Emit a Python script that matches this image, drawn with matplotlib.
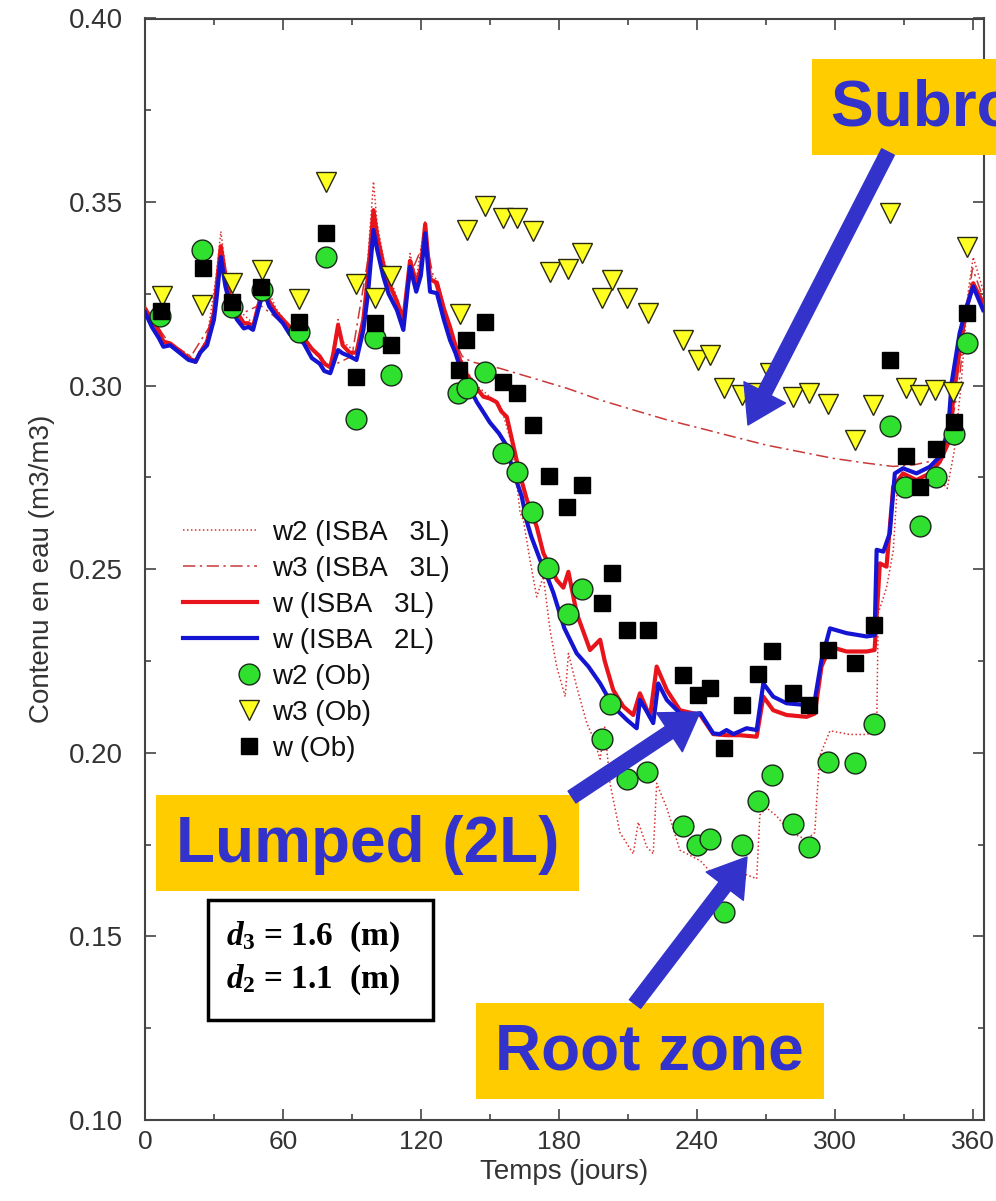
import matplotlib
matplotlib.use("Agg")
import matplotlib.pyplot as plt
from matplotlib.patches import Rectangle, FancyArrowPatch
from matplotlib.legend_handler import HandlerLine2D
from matplotlib.ticker import MultipleLocator

plt.rcParams['font.family'] = ['Liberation Sans', 'DejaVu Sans']
plt.rcParams['mathtext.fontset'] = 'custom'
plt.rcParams['mathtext.it'] = 'Liberation Serif:italic:bold'
plt.rcParams['mathtext.rm'] = 'Liberation Serif:bold'

# ---------------- data ----------------
w2_3L_days = [0, 3, 8, 15, 22, 27, 31, 33, 35, 40, 47, 51.6, 57, 63, 69, 76, 80.6, 84, 86, 92, 95, 97,
              99.4, 101, 104, 109.6, 112.4, 115.3, 118, 121.9, 124, 127, 132.7, 137, 140, 144.3, 150,
              155, 160, 163.2, 164.6, 167.5, 170.4, 173.3, 176.2, 179.1, 182.8, 184.2, 187.8, 192.2,
              195, 198, 200, 202.3, 206.6, 212.4, 214.6, 218.3, 221.1, 222.6, 227, 232.7, 241.6,
              247.2, 251.4, 256, 261.7, 266.1, 267.5, 270.4, 274.8, 280.6, 287.8, 291.4, 292.2,
              293.6, 298, 306.6, 313.9, 318.3, 319, 322.6, 325.5, 327, 330, 340, 345, 349, 352,
              355, 358, 360.3, 364.6]
w2_3L = [0.322, 0.318, 0.312, 0.310, 0.307, 0.313, 0.330, 0.342, 0.332, 0.321, 0.317, 0.329, 0.321,
         0.316, 0.313, 0.308, 0.305, 0.318, 0.312, 0.309, 0.320, 0.335, 0.3556, 0.344, 0.334, 0.324,
         0.318, 0.336, 0.329, 0.345, 0.330, 0.329, 0.316, 0.308, 0.304, 0.300, 0.297, 0.294, 0.283,
         0.2653, 0.2634, 0.2525, 0.2425, 0.248, 0.2335, 0.2235, 0.2153, 0.2271, 0.218, 0.2081,
         0.2041, 0.1983, 0.207, 0.1917, 0.1783, 0.1725, 0.1811, 0.1744, 0.1725, 0.1917, 0.185,
         0.1735, 0.1706, 0.1668, 0.1648, 0.1668, 0.1668, 0.1657, 0.1831, 0.185, 0.1828, 0.1783,
         0.1764, 0.1783, 0.1869, 0.1993, 0.206, 0.205, 0.205, 0.206, 0.238, 0.245, 0.255, 0.270,
         0.272, 0.272, 0.275, 0.272, 0.282, 0.300, 0.325, 0.335, 0.326]

w3_3L_days = [0, 10, 20, 30, 33, 40, 50, 60, 70, 80, 90, 99, 105, 112, 116, 122, 126, 132, 138, 142,
              154.5, 169, 183.5, 198, 212.4, 227, 241.6, 255.9, 270.4, 284.9, 299.4, 313.9, 325.5,
              335, 344, 348, 351, 354, 357, 360, 364]
w3_3L = [0.321, 0.312, 0.308, 0.318, 0.333, 0.319, 0.322, 0.317, 0.312, 0.305, 0.308, 0.342, 0.330,
         0.318, 0.331, 0.340, 0.328, 0.316, 0.308, 0.3065, 0.3047, 0.302, 0.2993, 0.2961, 0.2934,
         0.2907, 0.2884, 0.2861, 0.2838, 0.282, 0.2802, 0.2789, 0.278, 0.2785, 0.2797, 0.283, 0.290,
         0.300, 0.318, 0.332, 0.325]

w_3L_days = [0, 3, 6, 8, 11, 15, 19, 22, 24, 27, 30, 31, 33, 35, 37, 40, 43, 45, 47, 49, 51.6, 54, 57,
             60, 63, 66, 69, 72.6, 76, 78, 80.6, 82, 84, 86, 89, 92, 95, 97, 99.4, 101, 103.7, 106,
             109.6, 112.4, 115.3, 118, 120, 121.9, 124, 127, 130, 132.7, 135, 137, 140, 144.3, 147.2,
             150, 153, 155, 157.4, 160.3, 163, 166.1, 170.4, 173.3, 176.2, 179.1, 182, 184.2, 187.8,
             193.6, 198, 200, 203.7, 208.1, 212.4, 215.3, 219.7, 222.6, 227, 232.7, 241.6, 247.2,
             253, 258.8, 266.1, 269, 273.3, 279.1, 287.8, 291.4, 294.3, 298, 305.2, 313.9, 317.4,
             319.7, 322.6, 325.5, 329.8, 335.6, 341.4, 345.8, 349.4, 351.6, 354.4, 357, 360.3, 364.6]
w_3L = [0.321, 0.318, 0.315, 0.312, 0.3115, 0.3095, 0.3075, 0.3065, 0.309, 0.312, 0.320, 0.326, 0.338,
        0.330, 0.324, 0.320, 0.317, 0.317, 0.316, 0.321, 0.327, 0.323, 0.320, 0.318, 0.316, 0.315,
        0.313, 0.310, 0.308, 0.306, 0.305, 0.309, 0.3165, 0.311, 0.309, 0.309, 0.318, 0.330, 0.3478,
        0.341, 0.333, 0.328, 0.323, 0.318, 0.334, 0.328, 0.332, 0.344, 0.329, 0.328, 0.321, 0.316,
        0.311, 0.307, 0.303, 0.2993, 0.297, 0.2965, 0.2955, 0.293, 0.2915, 0.2835, 0.276, 0.269,
        0.2616, 0.2544, 0.2507, 0.2471, 0.245, 0.2493, 0.238, 0.228, 0.2308, 0.225, 0.2171, 0.2126,
        0.2103, 0.2162, 0.2098, 0.2235, 0.2171, 0.2116, 0.2103, 0.2051, 0.2048, 0.2048, 0.2044,
        0.2153, 0.2116, 0.2103, 0.2098, 0.2107, 0.2235, 0.2289, 0.2276, 0.2276, 0.228, 0.2516,
        0.2507, 0.2725, 0.2761, 0.2743, 0.2761, 0.2793, 0.2843, 0.2961, 0.3097, 0.320, 0.3279,
        0.3225]

w_2L_days = [0, 3, 6, 8, 11, 15, 19, 22, 24, 27, 30, 31, 33, 35, 37, 40, 43, 45, 47, 49, 51.6, 54, 57,
             60, 63, 66, 69, 72.6, 76, 78, 80.6, 82, 84, 86, 89, 92, 95, 97, 99.4, 101, 103.7, 106,
             109.6, 112.4, 115.3, 118, 120, 121.9, 124, 127, 130, 132.7, 135, 137, 140, 144.3, 148,
             150, 154, 157, 160, 163.9, 166.1, 168, 171.9, 173.3, 177.7, 182.4, 187.8, 192.9, 198,
             203.7, 209.6, 213.9, 215.3, 218, 221.1, 223.3, 227, 232.7, 238.5, 241.6, 247.2, 250,
             253, 256, 261.7, 266.1, 269, 273.3, 279.1, 287.8, 291.4, 294.3, 298, 305.2, 313.9,
             317.4, 318.3, 321.2, 324, 326.2, 329.8, 335.6, 341.4, 345.8, 349.4, 350.9, 354.4,
             357.4, 360.3, 364.6]
w_2L = [0.320, 0.316, 0.313, 0.3106, 0.311, 0.309, 0.307, 0.3065, 0.309, 0.311, 0.318, 0.323, 0.335,
        0.327, 0.322, 0.318, 0.3156, 0.316, 0.3152, 0.320, 0.326, 0.3216, 0.319, 0.317, 0.314,
        0.313, 0.3116, 0.3075, 0.306, 0.304, 0.3034, 0.306, 0.3097, 0.3088, 0.308, 0.307, 0.3152,
        0.325, 0.3424, 0.337, 0.3297, 0.325, 0.3206, 0.3152, 0.3324, 0.3256, 0.330, 0.3415, 0.3256,
        0.3252, 0.318, 0.3124, 0.309, 0.3052, 0.301, 0.2956, 0.292, 0.290, 0.287, 0.284, 0.277,
        0.2698, 0.263, 0.259, 0.2525, 0.2507, 0.2435, 0.234, 0.2271, 0.2235, 0.2189, 0.2126, 0.209,
        0.2067, 0.2144, 0.2116, 0.2081, 0.2189, 0.2144, 0.2108, 0.2103, 0.2108, 0.2053, 0.2051,
        0.2062, 0.2051, 0.2067, 0.2062, 0.2189, 0.2153, 0.2135, 0.213, 0.2144, 0.2253, 0.2339,
        0.2326, 0.2317, 0.232, 0.2553, 0.2548, 0.2598, 0.2761, 0.2775, 0.2761, 0.2779, 0.2807,
        0.2878, 0.3007, 0.3143, 0.3215, 0.327, 0.3206]

w2_obs_days = [6.7, 24.8, 37.8, 50.9, 66.8, 78.8, 91.9, 100.1, 107.0, 136.3, 140.0, 148.0, 155.9, 161.7,
               168.3, 175.5, 184.2, 190.0, 198.7, 202.3, 209.6, 218.3, 233.9, 240.3, 245.8, 251.9,
               259.8, 266.8, 272.6, 281.7, 289.0, 297.2, 308.8, 317.0, 324.0, 330.6, 337.0, 344.0,
               352.0, 357.7]
w2_obs = [0.319, 0.337, 0.3215, 0.326, 0.3147, 0.335, 0.291, 0.313, 0.303, 0.298, 0.2993, 0.3038,
          0.2816, 0.2766, 0.2657, 0.2503, 0.2378, 0.2445, 0.2037, 0.2133, 0.193, 0.1949, 0.180, 0.175,
          0.1764, 0.1567, 0.175, 0.187, 0.194, 0.1807, 0.1744, 0.1976, 0.1973, 0.2079, 0.289, 0.2725,
          0.2618, 0.2752, 0.2869, 0.3117]

w3_obs_days = [7.4, 24.8, 37.8, 50.9, 66.8, 78.8, 91.9, 100.1, 107.0, 137.0, 140.0, 148.0, 155.9, 161.7,
               169.0, 176.2, 184.2, 190.0, 198.7, 203.0, 209.6, 219.0, 233.9, 240.7, 246.0, 251.9,
               259.8, 266.0, 271.9, 281.7, 289.0, 297.2, 308.8, 316.8, 324.0, 331.0, 337.0, 343.6,
               351.6, 357.7]
w3_obs = [0.3244, 0.322, 0.328, 0.3315, 0.3236, 0.3556, 0.3277, 0.3239, 0.3299, 0.3195, 0.3424, 0.3488,
          0.3456, 0.3456, 0.342, 0.331, 0.3317, 0.336, 0.3238, 0.3288, 0.3238, 0.3197, 0.3124, 0.307,
          0.3084, 0.2993, 0.2975, 0.2981, 0.3034, 0.297, 0.2979, 0.295, 0.2852, 0.2947, 0.347, 0.2993,
          0.2975, 0.2988, 0.2984, 0.3379]

w_obs_days = [6.9, 25.2, 37.8, 50.6, 66.8, 78.8, 91.9, 100.1, 107.0, 136.8, 139.7, 148.0, 155.9, 161.7,
              169.0, 175.9, 183.7, 190.0, 198.7, 203.0, 209.8, 219.0, 233.9, 240.7, 245.8, 251.9,
              259.8, 266.8, 272.6, 282.0, 289.0, 297.2, 308.8, 317.0, 324.0, 331.0, 337.0, 344.0,
              352.0, 357.7]
w_obs = [0.3202, 0.332, 0.3229, 0.327, 0.3174, 0.3415, 0.3024, 0.3171, 0.3111, 0.3043, 0.3124, 0.3174,
         0.3011, 0.2981, 0.2893, 0.2754, 0.267, 0.2729, 0.2409, 0.2491, 0.2335, 0.2335, 0.2212, 0.2158,
         0.2176, 0.2012, 0.213, 0.2216, 0.2276, 0.2162, 0.213, 0.228, 0.2244, 0.2348, 0.307, 0.2808,
         0.2725, 0.2827, 0.2902, 0.3197]

labels = ['w2 (ISBA   3L)', 'w3 (ISBA   3L)', 'w (ISBA   3L)', 'w (ISBA   2L)',
          'w2 (Ob)', 'w3 (Ob)', 'w (Ob)']
xticks = [0, 60, 120, 180, 240, 300, 360]
yticks = [0.10, 0.15, 0.20, 0.25, 0.30, 0.35, 0.40]

# ---------------- figure ----------------
W, H = 996, 1201
fig = plt.figure(figsize=(W / 100, H / 100), dpi=100)
ax = fig.add_axes([145 / W, 1 - 1120 / H, (984 - 145) / W, (1120 - 18.5) / H])

red = '#e8141c'
blue = '#1414d2'
l1, = ax.plot(w2_3L_days, w2_3L, color='#d83030', lw=1.1, ls=(0, (1, 1.6)), zorder=2)
l2, = ax.plot(w3_3L_days, w3_3L, color='#c83838', lw=1.1, ls=(0, (8, 3, 1.5, 3)), zorder=2)
l3, = ax.plot(w_3L_days, w_3L, color=red, lw=3.0, zorder=3)
l4, = ax.plot(w_2L_days, w_2L, color=blue, lw=3.0, zorder=4)
m1, = ax.plot(w2_obs_days, w2_obs, ls='none', marker='o', ms=15, mfc='#2fe02f', mec='#1a2a1a',
              mew=1.0, zorder=5)
m2, = ax.plot(w3_obs_days, w3_obs, ls='none', marker='v', ms=15, mfc='#ffff22', mec='#2a2a10',
              mew=1.0, zorder=6)
m3, = ax.plot(w_obs_days, w_obs, ls='none', marker='s', ms=12, mfc='black', mec='black',
              mew=1.0, zorder=7)

ax.set_xlim(0, 365)
ax.set_ylim(0.10, 0.40)
ax.set_xticks(xticks)
ax.set_yticks(yticks)
ax.set_yticklabels([f'{v:.2f}' for v in yticks])
ax.xaxis.set_minor_locator(MultipleLocator(30))
ax.yaxis.set_minor_locator(MultipleLocator(0.025))
ax.tick_params(which='both', direction='in', top=True, right=True, color='#444444', width=1.2)
ax.tick_params(which='major', length=8)
ax.tick_params(which='minor', length=4)
ax.tick_params(axis='y', which='major', pad=16, labelsize=20, labelcolor='#333333')
ax.tick_params(axis='x', which='major', pad=7, labelsize=19, labelcolor='#333333')
for s in ax.spines.values():
    s.set_color('#444444')
    s.set_linewidth(1.5)
ax.set_xlabel('Temps (jours)', fontsize=20, color='#333333', labelpad=4)
ax.set_ylabel('Contenu en eau (m3/m3)', fontsize=20, color='#333333', labelpad=10)


class RightMarker(HandlerLine2D):
    """Put the single legend marker near the right end of the handle."""
    def get_xdata(self, legend, xdescent, ydescent, width, height, fontsize):
        xc = -xdescent + width - 0.3 * fontsize
        return [xc - 1, xc + 1], [xc]


rm = RightMarker()
leg = ax.legend([l1, l2, l3, l4, m1, m2, m3], labels, loc='upper left',
                bbox_to_anchor=(172 / W, 1 - 509 / H), bbox_transform=fig.transFigure,
                frameon=False, fontsize=20, handlelength=2.66, handletextpad=0.55,
                labelspacing=0.36, borderaxespad=0, numpoints=1,
                handler_map={m1: rm, m2: rm, m3: rm})
for t in leg.get_texts():
    t.set_color('#111111')

# ---------------- annotations ----------------
box_col = '#ffcc00'
txt_col = '#3333cc'


def fx(x):
    return x / W


def fy(y):
    return 1 - y / H


def label_box(x0, y0, x1, y1, text, tx):
    fig.add_artist(Rectangle((fx(x0), fy(y1)), fx(x1) - fx(x0), fy(y0) - fy(y1),
                             transform=fig.transFigure, facecolor=box_col, edgecolor='none',
                             zorder=10))
    fig.text(fx(tx), fy((y0 + y1) / 2 + 2), text, fontsize=46, fontweight='bold', color=txt_col,
             ha='left', va='center', zorder=11)


def arrow(xa, ya, xb, yb):
    fig.add_artist(FancyArrowPatch((fx(xa), fy(ya)), (fx(xb), fy(yb)), transform=fig.transFigure,
                                   arrowstyle='simple,head_length=2.2,head_width=2.8,tail_width=0.85',
                                   mutation_scale=12, color=txt_col, shrinkA=0, shrinkB=0,
                                   zorder=12))


label_box(812, 59, 1010, 155, 'Subroot zone', 831)
arrow(888, 152, 748, 425)
label_box(156, 795, 579, 891, 'Lumped (2L)', 176)
arrow(572, 797, 700, 712)
label_box(476, 1003, 824, 1099, 'Root zone', 495)
arrow(635, 1004, 747, 857)

fig.add_artist(Rectangle((fx(208), fy(1020)), fx(433) - fx(208), fy(900) - fy(1020),
                         transform=fig.transFigure, facecolor='white', edgecolor='black',
                         linewidth=2.5, zorder=10))
fig.text(fx(226), fy(937), r'$d_{3}$ = 1.6  (m)', fontsize=24, fontweight='bold',
         family='Liberation Serif', color='black', ha='left', va='center', zorder=11)
fig.text(fx(226), fy(980), r'$d_{2}$ = 1.1  (m)', fontsize=24, fontweight='bold',
         family='Liberation Serif', color='black', ha='left', va='center', zorder=11)

fig.savefig('out.png', dpi=100)
